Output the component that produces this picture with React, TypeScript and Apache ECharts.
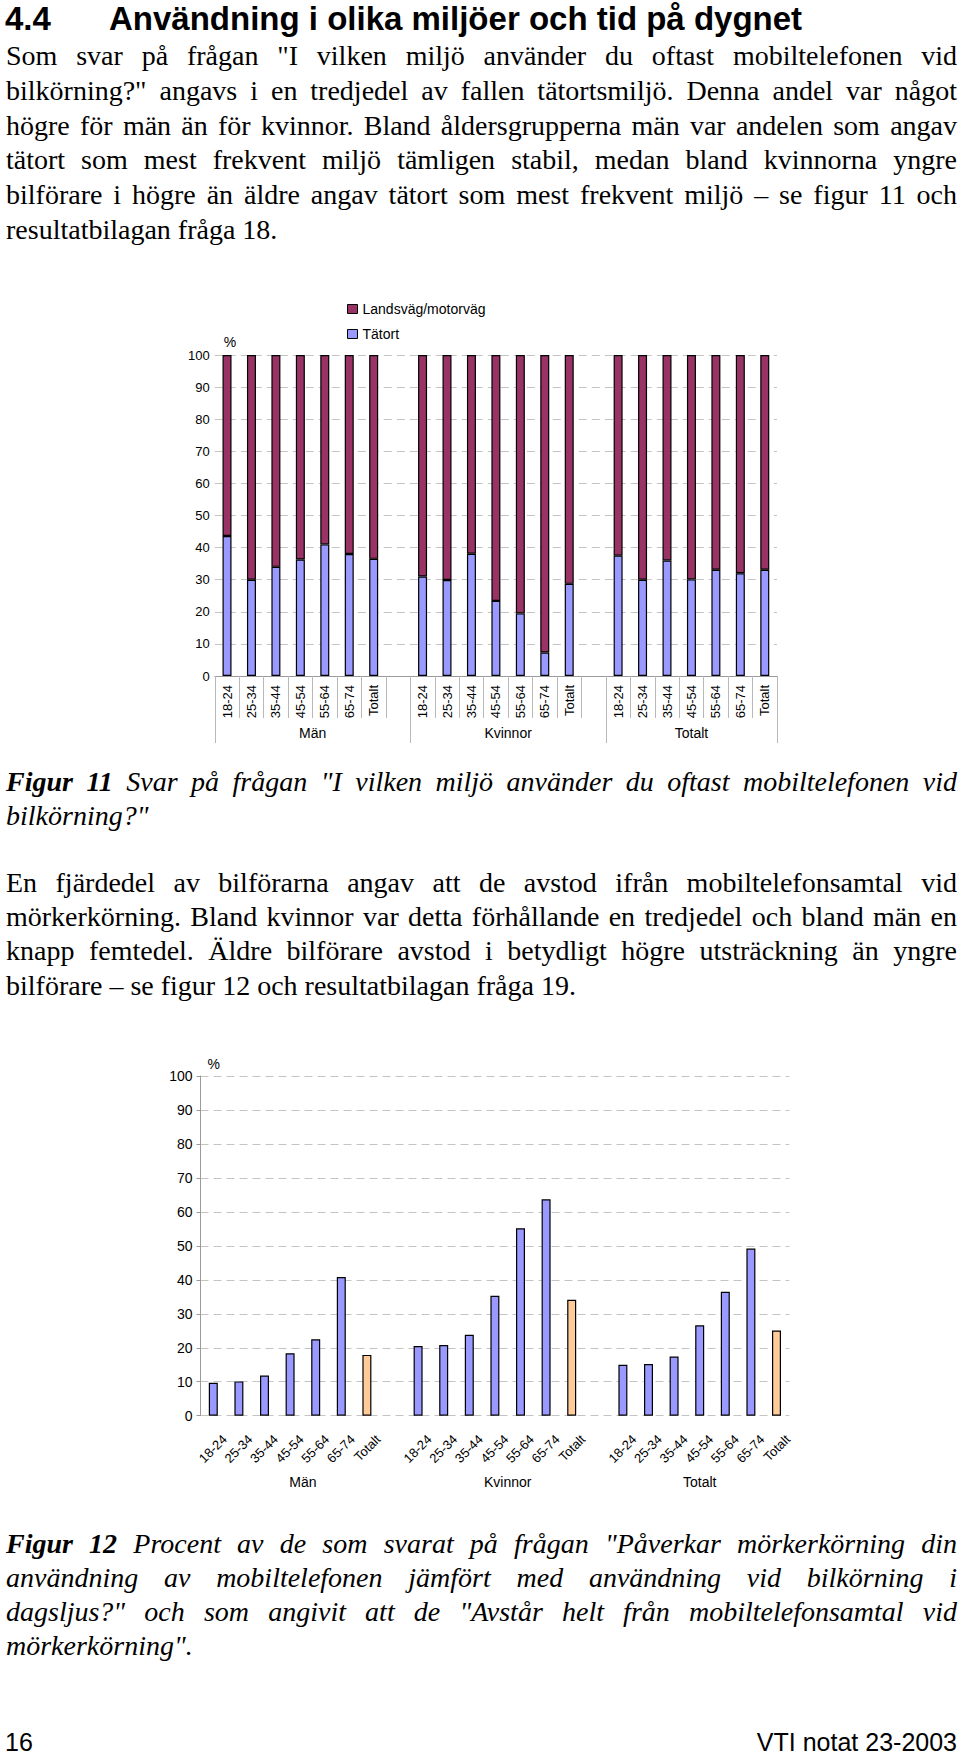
import React, { useEffect, useRef } from "react";
import * as echarts from "echarts";

// ---------- data ----------
const ageGroups = ["18-24", "25-34", "35-44", "45-54", "55-64", "65-74", "Totalt"];
const groupNames = ["Män", "Kvinnor", "Totalt"];

// Figur 11: share (%) answering "Tätort" / "Landsväg/motorväg"
const tatortMan = [43.6, 30.0, 34.0, 36.3, 41.0, 38.0, 36.5];
const tatortKvinnor = [31.0, 29.9, 38.1, 23.4, 19.5, 7.3, 28.7];
const tatortTotalt = [37.5, 30.0, 36.0, 30.1, 33.1, 32.0, 33.1];
const landsvagMan = [56.4, 70.0, 66.0, 63.7, 59.0, 62.0, 63.5];
const landsvagKvinnor = [69.0, 70.1, 61.9, 76.6, 80.5, 92.7, 71.3];
const landsvagTotalt = [62.5, 70.0, 64.0, 69.9, 66.9, 68.0, 66.9];

// Figur 12: "Avstår helt från mobiltelefonsamtal vid mörkerkörning" (%)
const avstarMan = [9.7, 10.1, 11.8, 18.4, 22.5, 40.8, 17.9];
const avstarKvinnor = [20.5, 20.8, 23.8, 35.3, 55.2, 63.7, 34.1];
const avstarTotalt = [15.0, 15.2, 17.4, 26.6, 36.5, 49.2, 25.1];

const yMin = 0;
const yMax = 100;
const yInterval = 10;

const SANS = "'Liberation Sans', Arial, sans-serif";
const SERIF = "'Liberation Serif', 'Times New Roman', serif";

// ---------- helpers ----------
const slotsPerGroup = ageGroups.length + 1;
function buildCats(): string[] {
  const cats: string[] = [];
  groupNames.forEach((g, gi) => {
    ageGroups.forEach((a) => cats.push(g + "|" + a));
    if (gi < groupNames.length - 1) cats.push(g + "|");
  });
  return cats;
}
function joinGroups(arrs: number[][]): (number | null)[] {
  const out: (number | null)[] = [];
  arrs.forEach((a, i) => {
    a.forEach((v) => out.push(v));
    if (i < arrs.length - 1) out.push(null);
  });
  return out;
}
const cats = buildCats();
const nSlots = cats.length;
const groupBounds: number[] = [];
const groupCenters: number[] = [];
groupNames.forEach((g, gi) => {
  const start = gi * slotsPerGroup;
  const end = gi === groupNames.length - 1 ? nSlots : start + slotsPerGroup;
  groupBounds.push(start);
  groupCenters.push((start + end) / 2);
});
groupBounds.push(nSlots);
const groupLabel = (v: number) => {
  const i = groupCenters.findIndex((c) => Math.abs(c - v) < 1e-6);
  return i >= 0 ? groupNames[i] : "";
};
const catLabel = (v: string) => v.split("|")[1] || "";

const tatortData = joinGroups([tatortMan, tatortKvinnor, tatortTotalt]);
const landsvagData = joinGroups([landsvagMan, landsvagKvinnor, landsvagTotalt]);
const avstarRaw = joinGroups([avstarMan, avstarKvinnor, avstarTotalt]);
const avstarData = avstarRaw.map((v, i) =>
  v === null
    ? null
    : {
        value: v,
        itemStyle: {
          color: catLabel(cats[i]) === "Totalt" ? "#FFCC99" : "#9999FF",
        },
      }
);

function buildOption(): any {
  const grid1 = { left: 214.8, top: 355, width: 562.2, height: 321 };
  const grid2 = { left: 200.5, top: 1076, width: 588.8, height: 339.7 };
  const dash = { color: "#c4c4c4", type: [8, 5], width: 1 };
  return {
    animation: false,
    textStyle: { fontFamily: SANS },
    legend: {
      data: ["Landsväg/motorväg", "Tätort"],
      orient: "vertical",
      left: 342,
      top: 297,
      itemWidth: 10,
      itemHeight: 9,
      itemGap: 11,
      icon: "rect",
      itemStyle: { borderColor: "#000", borderWidth: 1 },
      textStyle: { fontSize: 14, color: "#000", fontFamily: SANS },
    },
    grid: [
      { ...grid1, containLabel: false },
      { ...grid2, containLabel: false },
    ],
    xAxis: [
      {
        gridIndex: 0,
        type: "category",
        data: cats,
        axisLine: { show: true, lineStyle: { color: "#9a9a9a" } },
        axisTick: { show: true, interval: 0, length: 42, lineStyle: { color: "#b8b8b8" } },
        axisLabel: {
          interval: 0,
          rotate: 90,
          fontSize: 13,
          margin: 9,
          color: "#000",
          fontFamily: SANS,
          formatter: catLabel,
        },
        splitLine: { show: false },
      },
      {
        gridIndex: 0,
        type: "value",
        min: 0,
        max: nSlots,
        position: "bottom",
        axisLine: { show: false },
        splitLine: { show: false },
        axisTick: {
          show: true,
          customValues: groupBounds,
          length: 67,
          lineStyle: { color: "#b8b8b8" },
        },
        axisLabel: {
          customValues: groupCenters,
          formatter: groupLabel,
          margin: 50,
          fontSize: 14,
          color: "#000",
          fontFamily: SANS,
        },
      },
      {
        gridIndex: 1,
        type: "category",
        data: cats,
        axisLine: { show: false },
        axisTick: { show: false },
        axisLabel: {
          interval: 0,
          rotate: 45,
          fontSize: 13,
          margin: 10,
          verticalAlign: "top",
          lineHeight: 32,
          color: "#000",
          fontFamily: SANS,
          formatter: catLabel,
        },
        splitLine: { show: false },
      },
      {
        gridIndex: 1,
        type: "value",
        min: 0,
        max: nSlots,
        position: "bottom",
        axisLine: { show: false },
        splitLine: { show: false },
        axisTick: { show: false },
        axisLabel: {
          customValues: groupCenters,
          formatter: groupLabel,
          margin: 59,
          fontSize: 14,
          color: "#000",
          fontFamily: SANS,
        },
      },
    ],
    yAxis: [
      {
        gridIndex: 0,
        type: "value",
        min: yMin,
        max: yMax,
        interval: yInterval,
        axisLine: { show: false },
        axisTick: { show: false },
        splitLine: { show: true, lineStyle: dash },
        axisLabel: { fontSize: 13, color: "#000", margin: 5, fontFamily: SANS },
        name: "%",
        nameLocation: "end",
        nameGap: 6,
        nameTextStyle: { align: "left", fontSize: 14, color: "#000", padding: [0, 0, 0, 9], fontFamily: SANS },
      },
      {
        gridIndex: 1,
        type: "value",
        min: yMin,
        max: yMax,
        interval: yInterval,
        axisLine: { show: true, lineStyle: { color: "#9a9a9a" } },
        axisTick: { show: true, length: 4, lineStyle: { color: "#9a9a9a" } },
        splitLine: { show: true, lineStyle: dash },
        axisLabel: { fontSize: 14, color: "#000", margin: 8, fontFamily: SANS },
        name: "%",
        nameLocation: "end",
        nameGap: 5,
        nameTextStyle: { align: "left", fontSize: 14, color: "#000", padding: [0, 0, 0, 7], fontFamily: SANS },
      },
    ],
    series: [
      {
        name: "Tätort",
        type: "bar",
        xAxisIndex: 0,
        yAxisIndex: 0,
        stack: "miljo",
        barWidth: 9,
        data: tatortData,
        itemStyle: { color: "#9999FF", borderColor: "#000", borderWidth: 1.2 },
      },
      {
        name: "Landsväg/motorväg",
        type: "bar",
        xAxisIndex: 0,
        yAxisIndex: 0,
        stack: "miljo",
        barWidth: 9,
        data: landsvagData,
        itemStyle: { color: "#993366", borderColor: "#000", borderWidth: 1.2 },
      },
      {
        name: "Avstår",
        type: "bar",
        xAxisIndex: 2,
        yAxisIndex: 1,
        barWidth: 9,
        data: avstarData,
        itemStyle: { color: "#9999FF", borderColor: "#000", borderWidth: 1.2 },
      },
    ],
  };
}

// ---------- text ----------
const para1: string[] = [
  'Som svar på frågan "I vilken miljö använder du oftast mobiltelefonen vid',
  'bilkörning?" angavs i en tredjedel av fallen tätortsmiljö. Denna andel var något',
  "högre för män än för kvinnor. Bland åldersgrupperna män var andelen som angav",
  "tätort som mest frekvent miljö tämligen stabil, medan bland kvinnorna yngre",
  "bilförare i högre än äldre angav tätort som mest frekvent miljö – se figur 11 och",
  "resultatbilagan fråga 18.",
];
const para2: string[] = [
  "En fjärdedel av bilförarna angav att de avstod ifrån mobiltelefonsamtal vid",
  "mörkerkörning. Bland kvinnor var detta förhållande en tredjedel och bland män en",
  "knapp femtedel. Äldre bilförare avstod i betydligt högre utsträckning än yngre",
  "bilförare – se figur 12 och resultatbilagan fråga 19.",
];

const LH = 34;
const FS = 28;

function TextLine({ y, children, last, italic }: any) {
  return (
    <div
      style={{
        position: "absolute",
        left: 6,
        width: 951,
        top: y - LH / 2,
        height: LH,
        lineHeight: LH + "px",
        fontSize: FS,
        fontFamily: SERIF,
        fontStyle: italic ? "italic" : "normal",
        whiteSpace: "nowrap",
        textAlign: last ? "left" : "justify",
        textAlignLast: last ? "left" : "justify",
        color: "#000",
      } as any}
    >
      {children}
    </div>
  );
}

export default function App() {
  const ref = useRef<HTMLDivElement>(null);
  useEffect(() => {
    if (!ref.current) return;
    const chart = echarts.init(ref.current, null, { renderer: "svg" });
    chart.setOption(buildOption());
    return () => chart.dispose();
  }, []);

  const p1Y = [56, 91, 126, 160, 195, 230];
  const p2Y = [883, 917, 951, 986];
  const f11Y = [782, 816];
  const f12Y = [1544, 1578, 1612, 1646];

  const titleStyle: any = {
    position: "absolute",
    top: 0,
    height: 38,
    lineHeight: "38px",
    fontSize: 33,
    fontWeight: "bold",
    fontFamily: SANS,
    color: "#000",
    whiteSpace: "nowrap",
  };
  const footStyle: any = {
    position: "absolute",
    top: 1729,
    height: 26,
    lineHeight: "26px",
    fontSize: 25,
    fontFamily: SANS,
    color: "#000",
    whiteSpace: "nowrap",
  };

  return (
    <div
      style={{
        position: "absolute",
        left: 0,
        top: 0,
        width: 960,
        height: 1758,
        background: "#fff",
        overflow: "hidden",
      }}
    >
      <div ref={ref} style={{ position: "absolute", left: 0, top: 0, width: 960, height: 1758 }} />
      <div style={{ ...titleStyle, left: 5 }}>4.4</div>
      <div style={{ ...titleStyle, left: 109 }}>Användning i olika miljöer och tid på dygnet</div>
      {para1.map((t, i) => (
        <TextLine key={"p1" + i} y={p1Y[i]} last={i === para1.length - 1}>
          {t}
        </TextLine>
      ))}
      <TextLine y={f11Y[0]} italic>
        <b>Figur 11</b> Svar på frågan "I vilken miljö använder du oftast mobiltelefonen vid
      </TextLine>
      <TextLine y={f11Y[1]} italic last>
        bilkörning?"
      </TextLine>
      {para2.map((t, i) => (
        <TextLine key={"p2" + i} y={p2Y[i]} last={i === para2.length - 1}>
          {t}
        </TextLine>
      ))}
      <TextLine y={f12Y[0]} italic>
        <b>Figur 12</b> Procent av de som svarat på frågan "Påverkar mörkerkörning din
      </TextLine>
      <TextLine y={f12Y[1]} italic>
        användning av mobiltelefonen jämfört med användning vid bilkörning i
      </TextLine>
      <TextLine y={f12Y[2]} italic>
        dagsljus?" och som angivit att de "Avstår helt från mobiltelefonsamtal vid
      </TextLine>
      <TextLine y={f12Y[3]} italic last>
        mörkerkörning".
      </TextLine>
      <div style={{ ...footStyle, left: 5 }}>16</div>
      <div style={{ ...footStyle, right: 3, textAlign: "right" }}>VTI notat 23-2003</div>
    </div>
  );
}
